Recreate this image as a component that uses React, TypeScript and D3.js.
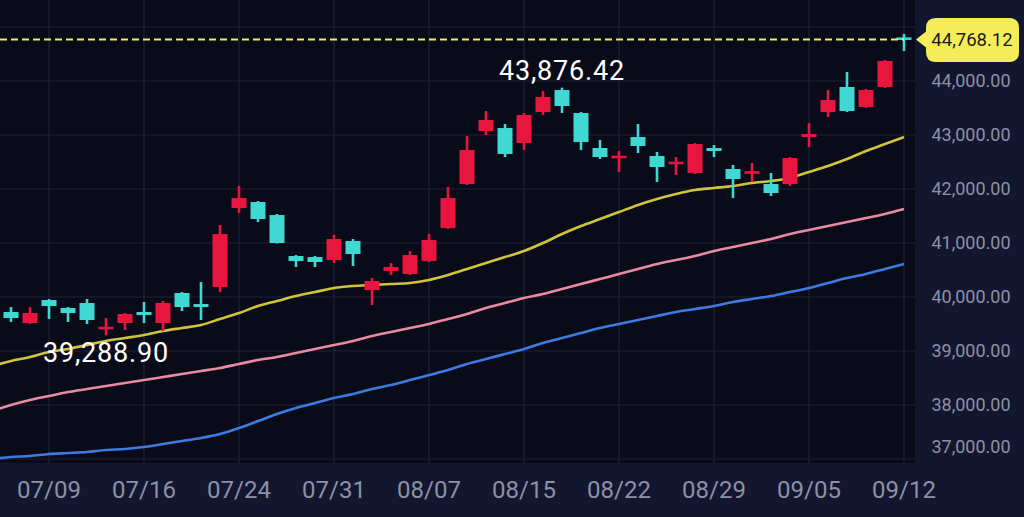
import React from "react";
import * as d3 from "d3";

const dates = ["07/04","07/07","07/08","07/09","07/10","07/11","07/14","07/15","07/16","07/17","07/18","07/22","07/23","07/24","07/25","07/28","07/29","07/30","07/31","08/01","08/04","08/05","08/06","08/07","08/08","08/12","08/13","08/14","08/15","08/18","08/19","08/20","08/21","08/22","08/25","08/26","08/27","08/28","08/29","09/01","09/02","09/03","09/04","09/05","09/08","09/09","09/10","09/11","09/12"];

const open = [39800,39722,39518,39944,39796,39888,39407,39518,39722,39518,40074,39870,40185,41648,41759,41518,40759,40740,40685,41037,40129,40481,40426,40666,41277,42092,43074,43129,42852,43426,43833,43407,42759,42574,42963,42611,42463,42296,42759,42370,42296,42092,42092,42963,43426,43889,43518,43889,44800];
const high = [39900,39814,39814,39963,39814,39963,39611,39703,39907,39925,40093,40277,41333,42055,41778,41537,40777,40759,41148,41074,40351,40629,40851,41166,42037,42981,43444,43204,43407,43815,43876.42,43426,42907,42703,43204,42685,42592,42852,42815,42444,42481,42296,42592,43222,43833,44167,43852,44389,44870];
const low = [39720,39537,39500,39592,39537,39500,39288.9,39388,39518,39370,39740,39574,40092,41555,41389,40990,40555,40555,40629,40574,39851,40407,40407,40648,41259,42074,43000,42592,42722,43370,43407,42722,42555,42315,42666,42129,42259,42278,42592,41833,42129,41870,42055,42778,43333,43426,43500,43870,44556];
const close = [39810,39611,39703,39833,39703,39574,39444,39685,39666,39888,39814,39814,41166,41833,41444,41000,40666,40648,41074,40796,40296,40555,40777,41055,41833,42722,43278,42648,43370,43704,43537,42870,42592,42611,42796,42407,42500,42833,42703,42185,42315,41926,42574,43018,43648,43444,43833,44370,44768.12];

const maShort = [38722,38814,38888,38981,39037,39111,39185,39240,39296,39370,39426,39481,39592,39703,39833,39926,40018,40092,40166,40203,40222,40240,40259,40315,40407,40518,40629,40740,40852,41000,41166,41315,41444,41574,41704,41815,41907,41981,42018,42055,42111,42148,42204,42315,42426,42555,42704,42833,42963];
const maMid = [37888,37999,38092,38166,38240,38296,38351,38407,38462,38518,38574,38629,38685,38759,38833,38888,38962,39037,39111,39185,39277,39351,39425,39500,39592,39685,39796,39888,39981,40055,40148,40240,40333,40426,40518,40611,40685,40759,40851,40926,41000,41074,41166,41240,41314,41389,41463,41537,41629];
const maLong = [36999,37036,37055,37092,37110,37129,37166,37185,37222,37277,37333,37388,37462,37573,37703,37833,37944,38036,38129,38203,38296,38370,38462,38555,38648,38759,38851,38944,39037,39148,39240,39333,39425,39500,39574,39648,39722,39777,39833,39907,39963,40018,40092,40166,40259,40351,40426,40518,40611];

const xTickLabels = ["07/09","07/16","07/24","07/31","08/07","08/15","08/22","08/29","09/05","09/12"];
const yTicks = [37000,38000,39000,40000,41000,42000,43000,44000,45000];
const yTickLabels = [37000,38000,39000,40000,41000,42000,43000,44000];
const highMarkDate = "08/19";
const lowMarkDate = "07/14";

const W = 1024, H = 517;
const plotRight = 915, plotBottom = 463;
const UP = "#e8163f", DOWN = "#3fd8d2";
const FONT = "Roboto, 'Noto Sans', sans-serif";

export default function App() {
  const x = d3.scalePoint<string>().domain(dates).range([-8, 904]);
  const y = d3.scaleLinear().domain([37000, 45000]).range([459, 27]);
  const fmt = d3.format(",.2f");
  const idx = d3.range(dates.length);

  const lineGen = (arr: number[]) =>
    d3.line<number>().x((i) => x(dates[i]) as number).y((i) => y(arr[i])).curve(d3.curveMonotoneX)(idx) || "";

  const hiI = dates.indexOf(highMarkDate);
  const loI = dates.indexOf(lowMarkDate);
  const last = dates.length - 1;
  const lastY = y(close[last]);

  const bx0 = 926, bx1 = 1019, by0 = 18, by1 = 62, r = 10;
  const boxPath = `M${bx0 + r},${by0} H${bx1 - r} Q${bx1},${by0} ${bx1},${by0 + r} V${by1 - r} Q${bx1},${by1} ${bx1 - r},${by1} H${bx0 + r} Q${bx0},${by1} ${bx0},${by1 - r} V${lastY + 8} L${bx0 - 10},${lastY} L${bx0},${lastY - 8} V${by0 + r} Q${bx0},${by0} ${bx0 + r},${by0} Z`;

  return (
    <div style={{ position: "fixed", left: 0, top: 0 }}>
      <svg width={W} height={H} style={{ display: "block", fontFamily: FONT }}>
        <defs>
          <clipPath id="plot">
            <rect x={0} y={0} width={plotRight} height={plotBottom} />
          </clipPath>
        </defs>
        <rect x={0} y={0} width={W} height={H} fill="#13162f" />
        <rect x={0} y={0} width={plotRight} height={plotBottom} fill="#0a0b19" />
        <g clipPath="url(#plot)">
          {yTicks.map((t) => (
            <line key={t} x1={0} x2={plotRight} y1={y(t)} y2={y(t)} stroke="#1f2237" strokeWidth={1.2} />
          ))}
          {xTickLabels.map((d) => (
            <line key={d} x1={x(d)} x2={x(d)} y1={0} y2={plotBottom} stroke="#1f2237" strokeWidth={1.2} />
          ))}
          <path d={lineGen(maLong)} fill="none" stroke="#3d7be3" strokeWidth={2.6} />
          <path d={lineGen(maMid)} fill="none" stroke="#ea8aa2" strokeWidth={2.6} />
          <path d={lineGen(maShort)} fill="none" stroke="#cfc43a" strokeWidth={2.6} />
          {idx.map((i) => {
            const cx = x(dates[i]) as number;
            const up = close[i] >= open[i];
            const col = up ? UP : DOWN;
            const top = y(Math.max(open[i], close[i]));
            const bot = y(Math.min(open[i], close[i]));
            const h = Math.max(2.6, bot - top);
            return (
              <g key={i}>
                <line x1={cx} x2={cx} y1={y(high[i])} y2={y(low[i])} stroke={col} strokeWidth={2.6} />
                <rect x={cx - 7.5} y={(top + bot) / 2 - h / 2} width={15} height={h} fill={col} />
              </g>
            );
          })}
          <line x1={0} x2={x(dates[last])} y1={lastY} y2={lastY} stroke="#f1ea6c" strokeWidth={2} strokeDasharray="7 4" />
        </g>
        <text x={x(dates[hiI])} y={y(high[hiI]) - 8} textAnchor="middle" fill="#ffffff" fontSize={27} letterSpacing={0.8}>
          {fmt(high[hiI])}
        </text>
        <text x={x(dates[loI])} y={y(low[loI]) + 27} textAnchor="middle" fill="#ffffff" fontSize={27} letterSpacing={0.8}>
          {fmt(low[loI])}
        </text>
        {yTickLabels.map((t) => (
          <text key={t} x={971} y={Math.min(y(t), 447)} dy="0.35em" textAnchor="middle" fill="#8d91a6" fontSize={18}>
            {fmt(t)}
          </text>
        ))}
        {xTickLabels.map((d) => (
          <text key={d} x={x(d)} y={490} dy="0.35em" textAnchor="middle" fill="#8d91a6" fontSize={24}>
            {d}
          </text>
        ))}
        <path d={boxPath} fill="#f6ec5a" />
        <text x={972} y={lastY} dy="0.35em" textAnchor="middle" fill="#1b1b1b" fontSize={18.5}>
          {fmt(close[last])}
        </text>
      </svg>
    </div>
  );
}
